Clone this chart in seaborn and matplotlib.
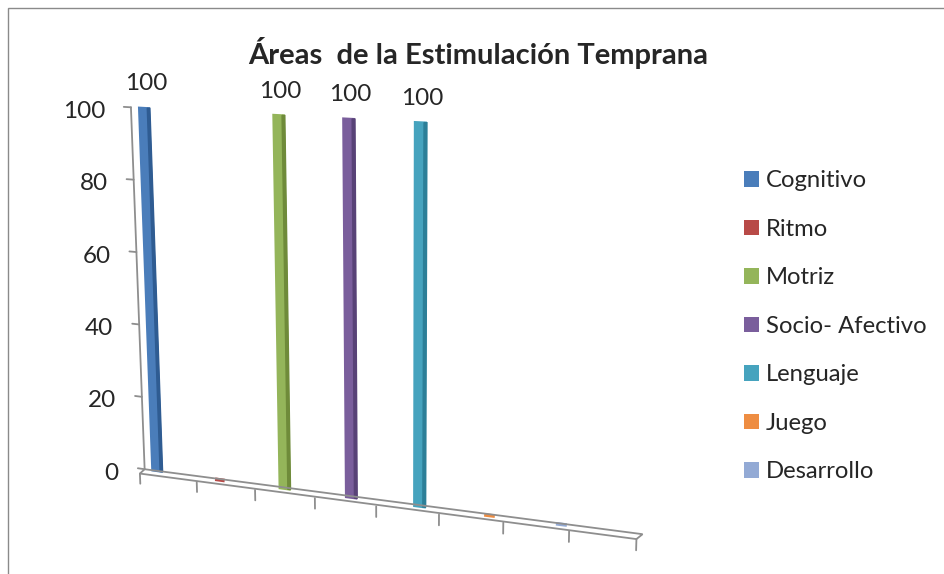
import numpy as np
import pandas as pd
import matplotlib
matplotlib.use("Agg")
import matplotlib.pyplot as plt
import seaborn as sns
from matplotlib.transforms import Transform, Affine2D, offset_copy
from matplotlib.patches import Patch, Polygon, Rectangle

# datos del grafico
areas = ["Cognitivo", "Ritmo", "Motriz", "Socio- Afectivo", "Lenguaje", "Juego", "Desarrollo"]
valores = [100, 0, 100, 100, 100, 0, 0]
colores = ["#4A7DBA", "#B84A47", "#94B55A", "#7A5E9C", "#46A3BE", "#EE8D42", "#93AAD5"]
sombras = ["#2F5C92", "#8C302E", "#6F8B3A", "#584277", "#2C7F98", "#C26A28", "#6E86B4"]
marcas_y = [0, 20, 40, 60, 80, 100]
titulo = "Áreas  de la Estimulación Temprana"


class Perspectiva(Transform):
    """(categoria, valor) -> pixeles, imitando la vista 3D de Excel."""
    input_dims = 2
    output_dims = 2

    def transform_non_affine(self, values):
        values = np.asarray(values, dtype=float).reshape(-1, 2)
        x, v = values[:, 0], values[:, 1]
        px = 157 + 62 * x + 0.9 * x ** 2 + v / 100 * (-13 + 3.5 * x)
        py = 471 + 8.9 * x - v * (3.63 + 0.053 * x)
        return np.column_stack([px, py])


sns.set_style("white")
plt.rcParams["font.family"] = ["Lato", "DejaVu Sans"]

df = pd.DataFrame({"area": areas, "valor": valores})

fig = plt.figure(figsize=(9.45, 5.74), dpi=100)
ax = fig.add_axes([0, 0, 1, 1])
persp = Perspectiva() + ax.transData

# cara frontal de las barras (las de valor 0 quedan como una rayita)
sns.barplot(data=df, x="area", y="valor", hue="area", palette=colores,
            saturation=1, width=0.15, errorbar=None, legend=False, ax=ax)
for bar in ax.patches:
    bar.set_transform(persp)
    bar.set_edgecolor(bar.get_facecolor())
    bar.set_linewidth(2.6 if bar.get_height() == 0 else 1.6)

# cara lateral (mas oscura)
n0 = len(ax.patches)
sns.barplot(data=df, x="area", y="valor", hue="area", palette=sombras,
            saturation=1, width=0.04, errorbar=None, legend=False, ax=ax)
for bar in ax.patches[n0:]:
    bar.set_transform(Affine2D().translate(0.07, 0) + persp)
    bar.set_edgecolor(bar.get_facecolor())
    bar.set_linewidth(1.0)
    if bar.get_height() == 0:
        bar.set_visible(False)

# piso y eje de categorias
gris = "#8E8E8E"
x0, x1 = -0.2, len(areas) + 0.1
fondo = 1.4
piso = Polygon([(x0, 0), (x1, 0), (x1 - 0.08, -fondo), (x0 - 0.08, -fondo)],
               closed=True, fill=False, edgecolor=gris, linewidth=1.3, transform=persp)
ax.add_patch(piso)
for t in np.linspace(x0 - 0.08, x1 - 0.08, len(areas) + 2):
    ax.plot([t, t], [-fondo, -fondo - 2.8], color=gris, linewidth=1.3, transform=persp)

# eje de valores
ax.plot([x0, x0], [0, 100], color=gris, linewidth=1.3, transform=persp)
etiq_y = offset_copy(persp, fig=fig, x=-26, y=-4, units="dots")
for v in marcas_y:
    ax.plot([x0, x0 - 0.11], [v, v], color=gris, linewidth=1.3, transform=persp)
    ax.text(x0, v, str(v), ha="right", va="center", fontsize=17.5, transform=etiq_y)

# etiquetas de datos
etiq_b = offset_copy(persp, fig=fig, x=2, y=24, units="dots")
for i, v in enumerate(valores):
    if v > 0:
        ax.text(i, v, str(v), ha="center", va="center", fontsize=17.5, transform=etiq_b)

ax.set_xlim(0, 945)
ax.set_ylim(574, 0)
ax.axis("off")

fig.text(478 / 945, 1 - 53 / 574, titulo, ha="center", va="center",
         fontsize=21, fontweight="bold")

handles = [Patch(facecolor=c, edgecolor="none") for c in colores]
fig.legend(handles, areas, loc="upper left", bbox_to_anchor=(744 / 945, 1 - 170.5 / 574),
           frameon=False, fontsize=17.2, handlelength=0.63, handleheight=0.63,
           handletextpad=0.3, labelspacing=1.15, borderpad=0, borderaxespad=0)

fig.patches.append(Rectangle((8 / 945, -0.1), 1.2, 1.1 - 8 / 574, fill=False,
                             edgecolor="#8A8A8A", linewidth=1.0, transform=fig.transFigure))

fig.savefig("out.png", dpi=100)
